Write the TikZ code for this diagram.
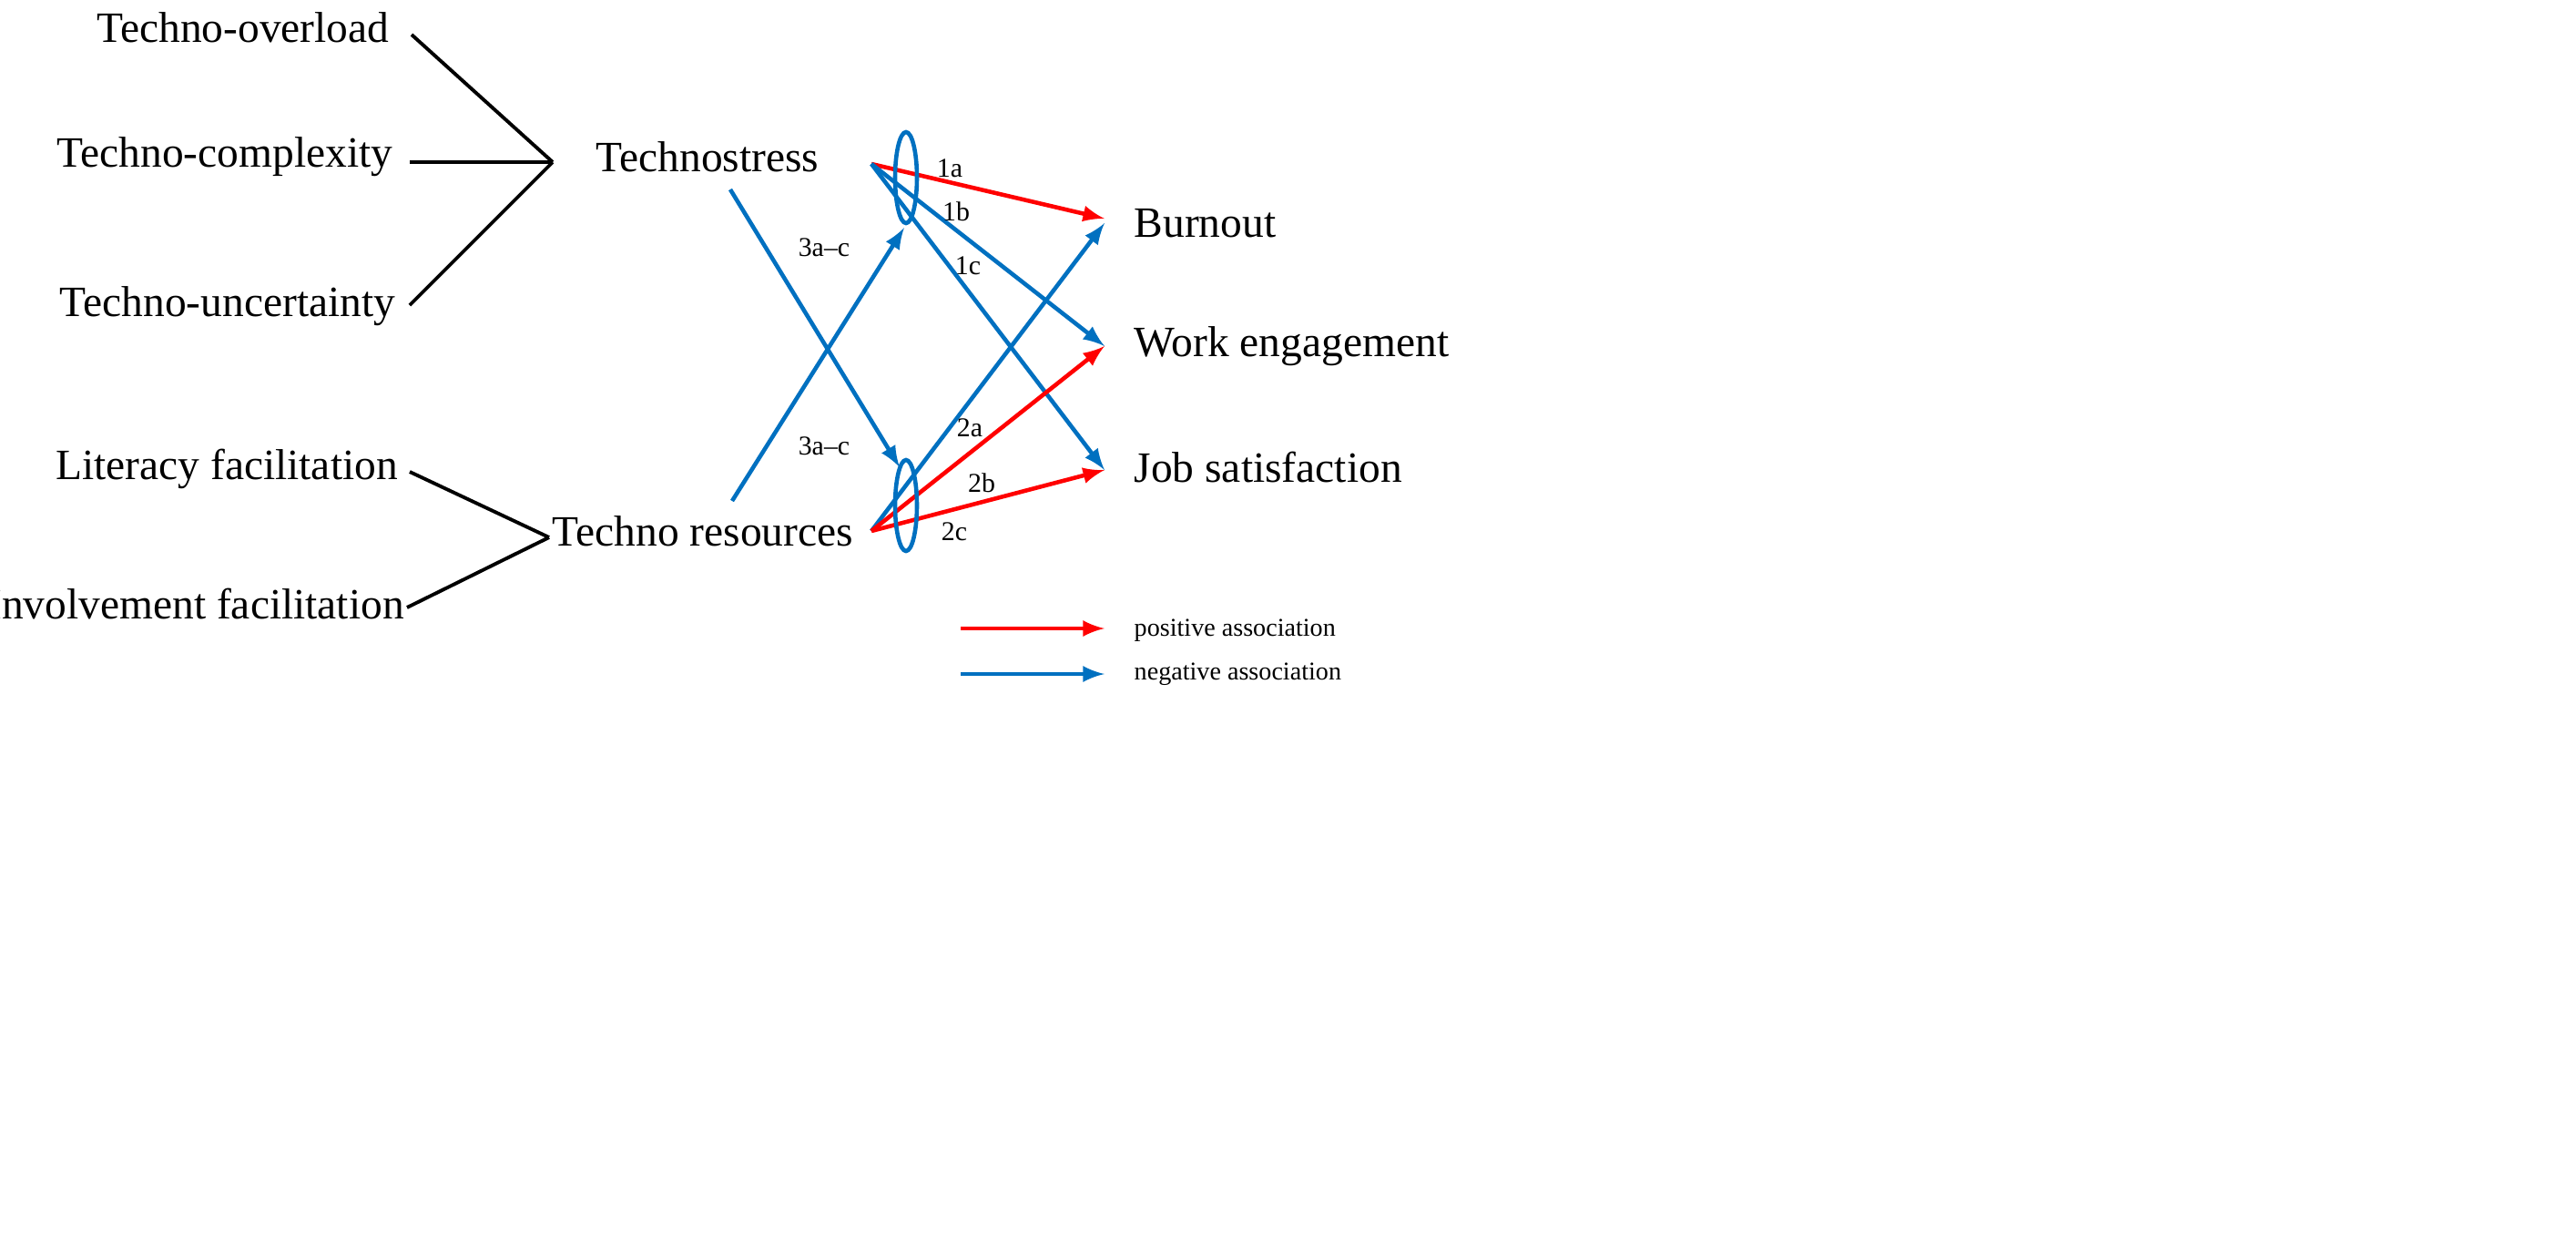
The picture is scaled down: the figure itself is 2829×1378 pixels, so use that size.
\documentclass[tikz,border=0pt]{standalone}
\usepackage{fontspec}
\setmainfont{Liberation Serif}
\definecolor{posred}{RGB}{255,0,0}
\definecolor{negblue}{RGB}{0,112,192}
\begin{document}
\begin{tikzpicture}[x=0.01cm,y=-0.01cm,
  lbl/.style={font=\fontsize{13.5}{16}\selectfont,inner sep=0pt},
  hyp/.style={font=\fontsize{8.5}{10}\selectfont,inner sep=0pt},
  leg/.style={font=\fontsize{8}{10}\selectfont,inner sep=0pt,anchor=west},
  posarr/.style={posred,line width=1.3pt,-latex},
  negarr/.style={negblue,line width=1.3pt,-latex},
  link/.style={black,line width=1.1pt}]
  \useasboundingbox (0,0) rectangle (2829,1378);
  % factors
  \node[lbl] (ovl) at (267,30) {Techno-overload};
  \node[lbl] (cpx) at (247,172) {Techno-complexity};
  \node[lbl] (unc) at (250,336) {Techno-uncertainty};
  \node[lbl] (lit) at (249,515) {Literacy facilitation};
  \node[lbl] (inv) at (215,663) {Involvement facilitation};
  \node[lbl] (ts) at (777,172) {Technostress};
  \node[lbl] (tr) at (772,583) {Techno resources};
  \node[lbl,anchor=west] (bo) at (1245,245) {Burnout};
  \node[lbl,anchor=west] (we) at (1245,380) {Work engagement};
  \node[lbl,anchor=west] (js) at (1245,513) {Job satisfaction};
  % branch points
  \coordinate (tsj) at (607,178);
  \coordinate (trj) at (603,590);
  \draw[link] (452,38) -- (tsj);
  \draw[link] (450,178) -- (tsj);
  \draw[link] (450,335) -- (tsj);
  \draw[link] (450,518) -- (trj);
  \draw[link] (447,667) -- (trj);
  % hypotheses
  \coordinate (tso) at (957,180);
  \coordinate (tro) at (957,583);
  \coordinate (boi) at (1213,240);
  \coordinate (wei) at (1213,380);
  \coordinate (jsi) at (1213,516);
  \draw[posarr] (tso) -- (boi);
  \draw[negarr] (tso) -- (wei);
  \draw[negarr] (tso) -- (jsi);
  \draw[negarr] (tro) -- (1213,245);
  \draw[posarr] (tro) -- (wei);
  \draw[posarr] (tro) -- (jsi);
  \draw[negblue,line width=1.3pt] (995,195) ellipse (12 and 50);
  \draw[negblue,line width=1.3pt] (995,555) ellipse (12 and 50);
  \draw[negarr] (802,208) -- (988,513);
  \draw[negarr] (804,550) -- (993,250);
  \node[hyp] (h1a) at (1043,185) {1a};
  \node[hyp] (h1b) at (1050,232) {1b};
  \node[hyp] (h1c) at (1063,292) {1c};
  \node[hyp] (h3t) at (905,272) {3a–c};
  \node[hyp] (h3b) at (905,490) {3a–c};
  \node[hyp] (h2a) at (1065,470) {2a};
  \node[hyp] (h2b) at (1078,530) {2b};
  \node[hyp] (h2c) at (1048,584) {2c};
  % legend
  \node[leg] (lpos) at (1245,692) {positive association};
  \node[leg] (lneg) at (1245,740) {negative association};
  \draw[posarr] (1055,690) -- (1213,690);
  \draw[negarr] (1055,740) -- (1213,740);
\end{tikzpicture}
\end{document}
